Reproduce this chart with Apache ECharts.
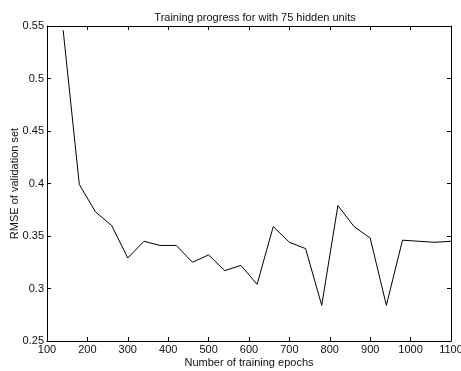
<!DOCTYPE html>
<html>
<head>
<meta charset="utf-8">
<script src="https://cdn.jsdelivr.net/npm/echarts@6/dist/echarts.min.js"></script>
<style>
  html, body { margin: 0; padding: 0; background: #fff; }
  #chart { width: 461px; height: 371px; }
</style>
</head>
<body>
<div id="chart"></div>
<script>
	// epochs and validation RMSE
	var epochs = [140, 180, 220, 260, 300, 340, 380, 420, 460, 500, 540, 580, 620,
		660, 700, 740, 780, 820, 860, 900, 940, 980, 1020, 1060, 1100];
	var rmse = [0.546, 0.399, 0.373, 0.360, 0.329, 0.345, 0.341, 0.341, 0.325, 0.332,
		0.317, 0.322, 0.304, 0.359, 0.344, 0.338, 0.284, 0.379, 0.359, 0.348,
		0.284, 0.346, 0.345, 0.344, 0.345];

	var font = "Liberation Sans, Arial, Helvetica, sans-serif";

	var points = [];
	for (var i = 0; i < epochs.length; i++) {
		points.push([epochs[i], rmse[i]]);
	}

	var lineStyle = { "color": "#000", "width": 1 };

	var option = {
		"animation": false,
		"backgroundColor": "#fff",
		"title": {
			"text": "Training progress for with 75 hidden units",
			"left": 250,
			"textAlign": "center",
			"top": 7,
			"textStyle": {
				"fontFamily": font,
				"fontSize": 11,
				"fontWeight": "normal",
				"color": "#111"
			}
		},
		"grid": {
			"left": 47,
			"right": 10,
			"top": 26,
			"bottom": 30,
			"containLabel": false,
			"outerBoundsMode": "none"
		},
		"xAxis": [{
			"type": "value",
			"min": 100,
			"max": 1100,
			"interval": 100,
			"name": "Number of training epochs",
			"nameLocation": "middle",
			"nameGap": 16,
			"nameMoveOverlap": false,
			"nameTextStyle": { "fontFamily": font, "fontSize": 11, "color": "#111" },
			"axisLine": { "show": true, "lineStyle": lineStyle },
			"axisTick": { "show": true, "inside": true, "length": 4, "lineStyle": lineStyle },
			"axisLabel": {
				"fontFamily": font, "fontSize": 11, "color": "#111", "margin": 3,
				"formatter": function(v) { return String(v); }
			},
			"splitLine": { "show": false }
		}, {
			"type": "value",
			"position": "top",
			"min": 100,
			"max": 1100,
			"interval": 100,
			"axisLine": { "show": true, "lineStyle": lineStyle },
			"axisTick": { "show": true, "inside": true, "length": 4, "lineStyle": lineStyle },
			"axisLabel": { "show": false },
			"splitLine": { "show": false }
		}],
		"yAxis": [{
			"type": "value",
			"min": 0.25,
			"max": 0.55,
			"interval": 0.05,
			"name": "RMSE of validation set",
			"nameLocation": "middle",
			"nameGap": 27,
			"nameMoveOverlap": false,
			"nameTextStyle": { "fontFamily": font, "fontSize": 11, "color": "#111" },
			"axisLine": { "show": true, "lineStyle": lineStyle },
			"axisTick": { "show": true, "inside": true, "length": 4, "lineStyle": lineStyle },
			"axisLabel": { "fontFamily": font, "fontSize": 11, "color": "#111", "margin": 3 },
			"splitLine": { "show": false }
		}, {
			"type": "value",
			"position": "right",
			"min": 0.25,
			"max": 0.55,
			"interval": 0.05,
			"axisLine": { "show": true, "lineStyle": lineStyle },
			"axisTick": { "show": true, "inside": true, "length": 4, "lineStyle": lineStyle },
			"axisLabel": { "show": false },
			"splitLine": { "show": false }
		}],
		"series": [{
			"type": "line",
			"data": points,
			"symbol": "none",
			"lineStyle": { "color": "#000", "width": 1 },
			"silent": true
		}]
	};

	var echartsContainer = echarts.init(document.getElementById("chart"));
	echartsContainer.setOption(option);
</script>
</body>
</html>
